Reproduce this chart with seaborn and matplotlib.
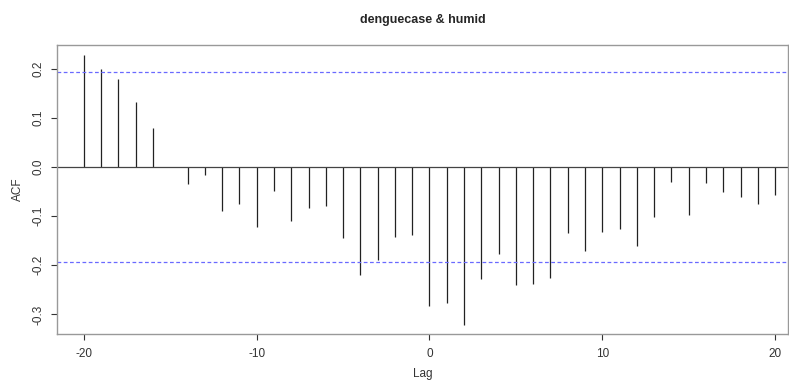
import numpy as np
import seaborn as sns
import matplotlib
matplotlib.use("Agg")
import matplotlib.pyplot as plt

# lags and cross-correlation values
lags = list(range(-20, 21))
acf = [0.227, 0.200, 0.178, 0.131, 0.080, 0.000, -0.035, -0.016, -0.090, -0.075,
       -0.123, -0.049, -0.110, -0.083, -0.079, -0.144, -0.220, -0.190, -0.142, -0.139,
       -0.283, -0.277, -0.321, -0.228, -0.178, -0.240, -0.238, -0.225, -0.135, -0.171,
       -0.132, -0.127, -0.161, -0.102, -0.031, -0.097, -0.032, -0.052, -0.062, -0.075,
       -0.057]
conf = 0.193

sns.set_style("ticks")
plt.rcParams["font.family"] = ["Liberation Sans", "DejaVu Sans"]
plt.rcParams["axes.unicode_minus"] = False

fig = plt.figure(figsize=(7.89, 3.81), dpi=100)
ax = fig.add_axes([0.0722, 0.123, 0.927, 0.759])

ax.vlines(lags, 0, acf, color="#222222", linewidth=0.9)
ax.axhline(0, color="#444444", linewidth=0.9)
ax.axhline(conf, color="#6a6aff", linewidth=0.9, linestyle=(0, (3, 2)))
ax.axhline(-conf, color="#6a6aff", linewidth=0.9, linestyle=(0, (3, 2)))

ax.set_xlim(-21.56, 20.77)
ax.set_ylim(-0.340, 0.248)
ax.set_xticks([-20, -10, 0, 10, 20])
ax.set_yticks([-0.3, -0.2, -0.1, 0.0, 0.1, 0.2])
ax.set_yticklabels(["-0.3", "-0.2", "-0.1", "0.0", "0.1", "0.2"], rotation=90, va="center")
ax.tick_params(labelsize=8.5, colors="#333333", length=4, width=0.8)
ax.tick_params(axis="x", pad=6)
ax.tick_params(axis="y", pad=5)

for s in ax.spines.values():
    s.set_visible(True)
    s.set_color("#999999")
    s.set_linewidth(1.0)

ax.set_xlabel("Lag", fontsize=8.5, color="#333333", labelpad=6)
ax.set_ylabel("ACF", fontsize=8.5, color="#333333", labelpad=6)
ax.set_title("denguecase & humid", fontsize=9, fontweight="bold", pad=16)

fig.savefig("out.png", dpi=100)
